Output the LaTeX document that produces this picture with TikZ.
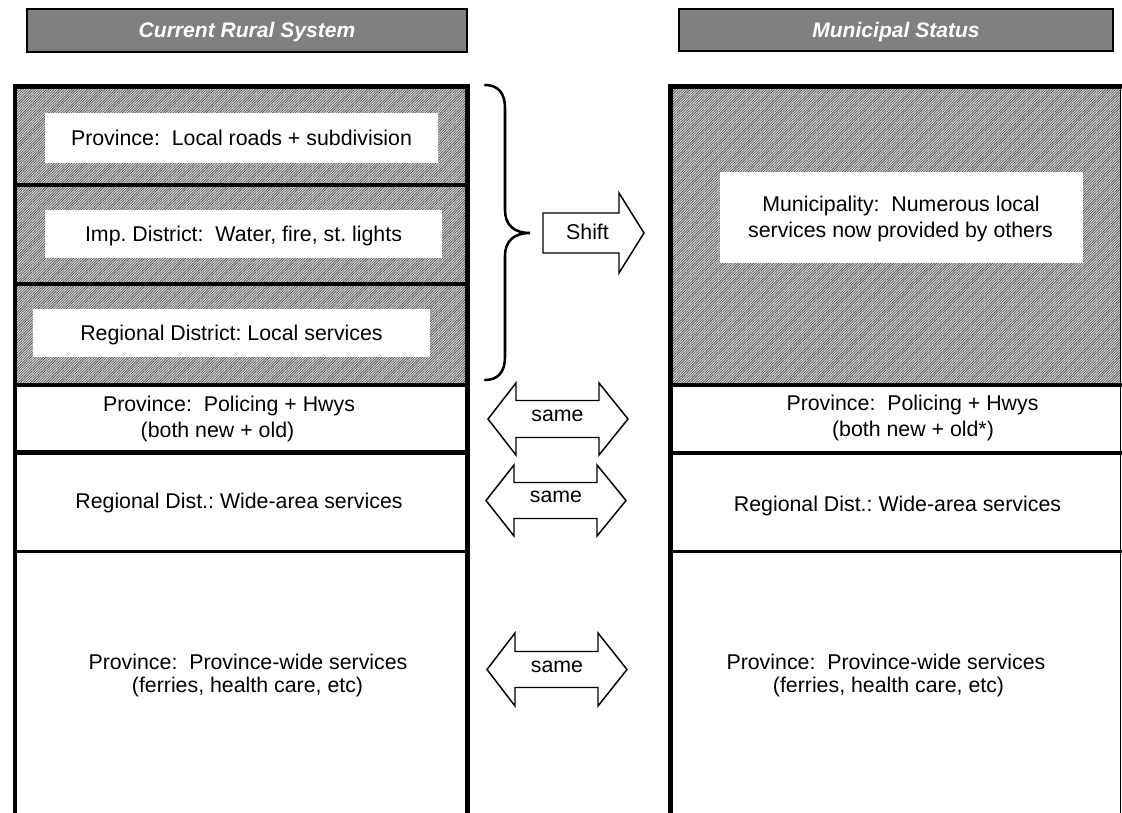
\documentclass[tikz,border=0pt]{standalone}
\usepackage{fontspec}
\setmainfont{Liberation Sans}
\usetikzlibrary{patterns.meta}
\definecolor{titlegray}{HTML}{808080}
\definecolor{hatchbg}{gray}{0.86}
\frenchspacing
\begin{document}
\begin{tikzpicture}[x=0.75pt,y=-0.75pt,
  body/.style={font=\fontsize{16}{19}\selectfont, inner sep=0pt},
  lbl/.style={body, anchor=base},
  whitebox/.style={body, fill=white, text height=11.4pt, text depth=0pt},
  titlebox/.style={fill=titlegray, draw=black, line width=0.8pt, text=white, inner sep=0pt,
    font=\fontsize{15.8}{18}\selectfont\bfseries\itshape, text height=11.2pt, text depth=0pt},
  colborder/.style={line width=3.6pt, line join=miter},
  sepline/.style={line width=3.1pt},
  hatch/.style={fill=hatchbg, postaction={pattern={Lines[angle=45,distance=1.35pt,line width=0.45pt]}, pattern color=black!72}},
  arrowshape/.style={draw=black, fill=white, line width=1.1pt, line join=miter},
  bracestyle/.style={line width=1.9pt, line cap=round}
]
\useasboundingbox (0,0) rectangle (1122,813);
\begin{scope}
\clip (0,0) rectangle (1122,813);

% titles
\node[titlebox, minimum width=330pt, minimum height=32.25pt] (tleft) at (247,30.5) {Current Rural System};
\node[titlebox, minimum width=325.5pt, minimum height=31.5pt] (tright) at (896,30) {Municipal Status};

% hatched areas
\fill[hatch] (15,86.5) rectangle (467.5,385);
\fill[hatch] (670.5,86.5) rectangle (1120.5,385);

% left white boxes
\node[whitebox, minimum width=294.75pt, minimum height=37.5pt] (lroads) at (241.5,138) {Province:\ \ Local roads + subdivision};
\node[whitebox, minimum width=297.75pt, minimum height=36pt] (limp) at (243.5,234) {Imp. District:\ \ Water, fire, st. lights};
\node[whitebox, minimum width=297.75pt, minimum height=36pt] (lrdl) at (231.5,333) {Regional District: Local services};

% right white box
\node[fill=white, inner sep=0pt, minimum width=272.25pt, minimum height=68.25pt] (muni) at (901.5,217.5) {};
\node[lbl] (muni1) at (901,211.7) {Municipality:\ \ Numerous local};
\node[lbl] (muni2) at (900.5,237.3) {services now provided by others};

% left column borders and separators
\draw[colborder] (15,815) -- (15,86.5) -- (467.5,86.5) -- (467.5,815);
\draw[sepline] (15,185) -- (467.5,185);
\draw[sepline] (15,284) -- (467.5,284);
\draw[sepline, line width=3.6pt] (15,385) -- (467.5,385);
\draw[sepline, line width=3.6pt] (15,452.5) -- (467.5,452.5);
\draw[sepline, line width=2.4pt] (15,551.5) -- (467.5,551.5);

% right column borders and separators
\draw[colborder] (670.5,815) -- (670.5,86.5) -- (1122,86.5);
\draw[line width=1.1pt] (1120.5,86.5) -- (1120.5,815);
\draw[sepline, line width=3.6pt] (670.5,385) -- (1122,385);
\draw[sepline, line width=3.6pt] (670.5,453) -- (1122,453);
\draw[sepline, line width=2.4pt] (670.5,551.5) -- (1122,551.5);

% left column texts
\node[lbl] (lpol1) at (229,411.5) {Province:\ \ Policing + Hwys};
\node[lbl] (lpol2) at (217.5,437) {(both new + old)};
\node[lbl] (lrdw) at (239,508) {Regional Dist.: Wide-area services};
\node[lbl] (lprov1) at (248,669) {Province:\ \ Province-wide services};
\node[lbl] (lprov2) at (247.5,692) {(ferries, health care, etc)};

% right column texts
\node[lbl] (rpol1) at (912.5,410) {Province:\ \ Policing + Hwys};
\node[lbl] (rpol2) at (913,436.7) {(both new + old*)};
\node[lbl] (rrdw) at (897.5,511) {Regional Dist.: Wide-area services};
\node[lbl] (rprov1) at (886,669) {Province:\ \ Province-wide services};
\node[lbl] (rprov2) at (888.5,692) {(ferries, health care, etc)};

% brace
\coordinate (btop) at (485,85);
\coordinate (btip) at (530,233);
\coordinate (bbot) at (485,380);
\draw[bracestyle] (btop) .. controls (498,85) and (505,93) .. (505,108)
  -- (505,210) .. controls (505,225) and (514,233) .. (btip)
  .. controls (514,233) and (505,241) .. (505,256)
  -- (505,357) .. controls (505,372) and (498,380) .. (bbot);

% shift arrow
\draw[arrowshape] (543,213) -- (619,213) -- (619,193) -- (644,233) -- (619,273) -- (619,253) -- (543,253) -- cycle;
\node[lbl] (shift) at (587.5,240) {Shift};

% same arrows
\draw[arrowshape] (488,419) -- (516,383) -- (516,400.5) -- (599,400.5) -- (599,383) -- (628,419) -- (599,455) -- (599,437.5) -- (516,437.5) -- (516,455) -- cycle;
\node[lbl] (same1) at (557.5,421.7) {same};
\draw[arrowshape] (486,500.5) -- (514,465) -- (514,482.5) -- (597,482.5) -- (597,465) -- (626,500.5) -- (597,536) -- (597,518.5) -- (514,518.5) -- (514,536) -- cycle;
\node[lbl] (same2) at (556,502.7) {same};
\draw[arrowshape] (487,669.5) -- (515,633) -- (515,651.5) -- (598,651.5) -- (598,633) -- (627,669.5) -- (598,706) -- (598,687.5) -- (515,687.5) -- (515,706) -- cycle;
\node[lbl] (same3) at (557,672) {same};
\end{scope}
\end{tikzpicture}
\end{document}
